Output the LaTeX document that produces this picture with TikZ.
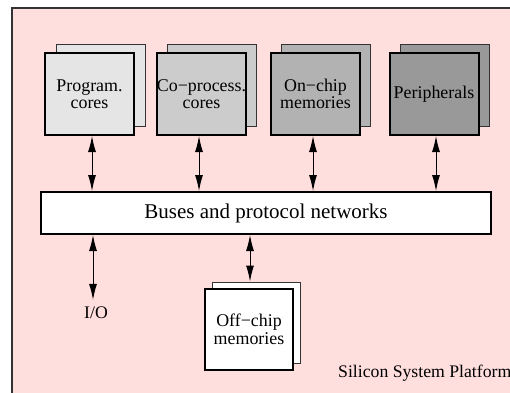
\documentclass[tikz,border=0pt]{standalone}
\usepackage{fontspec}
\setmainfont{Liberation Serif}
\usetikzlibrary{arrows.meta}
\definecolor{platpink}{HTML}{FFDEDE}
\definecolor{framegray}{HTML}{333333}
\definecolor{progfill}{HTML}{E5E5E5}
\definecolor{copfill}{HTML}{CCCCCC}
\definecolor{memfill}{HTML}{B2B2B2}
\definecolor{perfill}{HTML}{999999}
\tikzset{
  frontbox/.style={draw=black, line width=2pt, minimum width=89pt, minimum height=82pt,
    inner sep=0pt, align=center, font=\fontsize{17.9}{17.5}\selectfont},
  backbox/.style={draw=framegray, line width=1pt, minimum width=89pt, minimum height=82pt, inner sep=0pt},
  busbox/.style={draw=black, line width=2pt, fill=white, minimum width=450pt, minimum height=42pt,
    inner sep=0pt, font=\fontsize{21}{21}\selectfont},
  lbl/.style={inner sep=0pt, font=\fontsize{17.7}{17.5}\selectfont},
  biarrow/.style={line width=1pt, {Latex[length=16pt,width=8pt]}-{Latex[length=16pt,width=8pt]}}
}
\begin{document}
\begin{tikzpicture}[x=1pt, y=-1pt]
  \clip (0,0) rectangle (510,392);
  % platform frame
  \draw[framegray, line width=1.5pt, fill=platpink] (12,8) rectangle (530,410);

  % on-chip blocks (stacked pairs)
  \node[backbox, fill=progfill] (progB) at (100.5,85) {};
  \node[frontbox, fill=progfill] (prog) at (89.5,94) {Program.\\cores};
  \node[backbox, fill=copfill] (copB) at (212,85) {};
  \node[frontbox, fill=copfill] (cop) at (201.5,94) {Co\textminus process.\\cores};
  \node[backbox, fill=memfill] (memB) at (326,85) {};
  \node[frontbox, fill=memfill] (mem) at (315.5,94) {On\textminus chip\\memories};
  \node[backbox, fill=perfill] (perB) at (444.5,85) {};
  \node[frontbox, fill=perfill] (per) at (434,94) {Peripherals};

  % interconnect
  \node[busbox] (bus) at (266,213) {Buses and protocol networks};

  % off-chip memories
  \node[backbox, fill=white, minimum width=88pt, minimum height=81pt] (offB) at (256,322.5) {};
  \node[frontbox, fill=white, minimum width=88pt, minimum height=81pt] (off) at (249,329.5) {Off\textminus chip\\memories};

  \node[lbl] (io) at (96,313) {I/O};
  \node[lbl, anchor=base west] (plat) at (338,377) {Silicon System Platform};

  % connections
  \draw[biarrow] ([xshift=2.5pt]prog.south) -- ([xshift=2.5pt]prog.south |- bus.north);
  \draw[biarrow] ([xshift=-2.5pt]cop.south) -- ([xshift=-2.5pt]cop.south |- bus.north);
  \draw[biarrow] ([xshift=-2.5pt]mem.south) -- ([xshift=-2.5pt]mem.south |- bus.north);
  \draw[biarrow] ([xshift=2pt]per.south) -- ([xshift=2pt]per.south |- bus.north);
  \draw[biarrow, shorten >=7pt] ([xshift=-3pt]io.north |- bus.south) -- ([xshift=-3pt]io.north);
  \draw[biarrow] ([xshift=1pt]off.north |- bus.south) -- ([xshift=1pt]off.north |- offB.north);
\end{tikzpicture}
\end{document}
